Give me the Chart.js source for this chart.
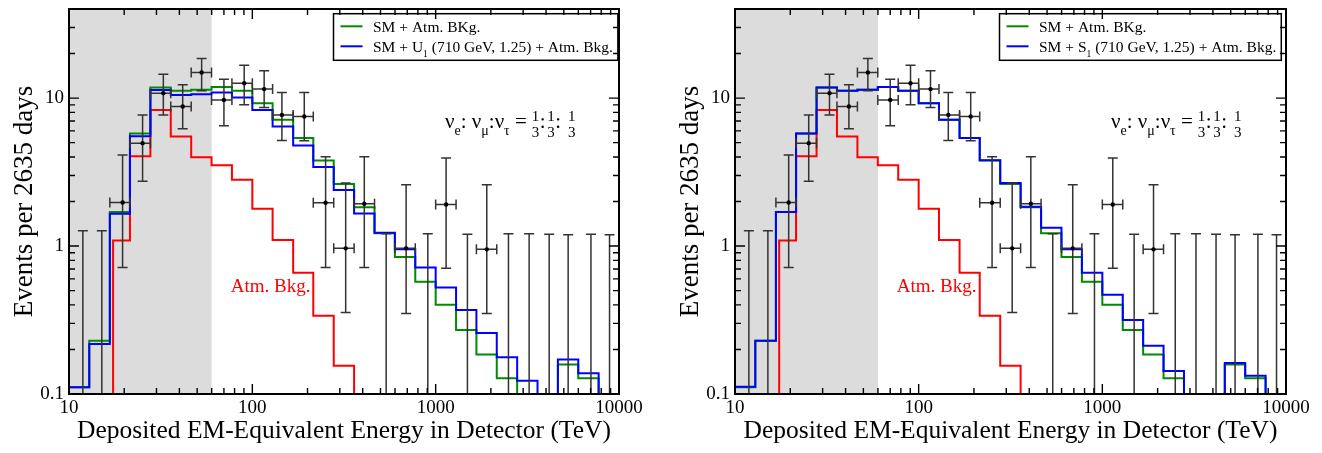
<!DOCTYPE html>
<html>
<head>
<meta charset="utf-8">
<script src="https://cdn.jsdelivr.net/npm/chart.js@4.4.1/dist/chart.umd.min.js"></script>
<style>
  html, body { margin: 0; padding: 0; background: #fff; }
  #wrap { position: relative; width: 1322px; height: 453px; overflow: hidden; }
  #chartLeft { position: absolute; left: 0; top: 0; }
  #chartRight { position: absolute; left: 666px; top: 0; }
</style>
</head>
<body>
<div id="wrap">
  <canvas id="chartLeft" width="666" height="453"></canvas>
  <canvas id="chartRight" width="656" height="453"></canvas>
</div>
<script>
// energy bin edges (TeV), 9 bins per decade
const binEdges = [10, 12.9, 16.7, 21.5, 27.8, 35.9, 46.4, 59.9, 77.4, 100, 129, 167, 215, 278, 359,
  464, 599, 774, 1000, 1292, 1668, 2154, 2783, 3594, 4642, 5995, 7743, 10000];

// expected events per bin
const smAtm = [0.111, 0.229, 1.70, 5.77, 11.8, 11.2, 11.4, 11.9, 11.2, 9.23, 7.13, 5.37, 3.78, 2.63,
  1.83, 1.22, 0.843, 0.573, 0.401, 0.271, 0.185, 0.128, 0, 0, 0.158, 0.128, 0];
const smU1 = [0.111, 0.218, 1.65, 5.53, 11.35, 10.5, 10.6, 10.9, 10.1, 8.32, 6.43, 4.79, 3.42, 2.39,
  1.66, 1.23, 0.95, 0.715, 0.524, 0.369, 0.258, 0.177, 0.123, 0, 0.171, 0.138, 0];
const smS1 = [0.112, 0.229, 1.70, 5.77, 11.8, 11.2, 11.4, 11.9, 11.2, 9.23, 7.13, 5.37, 3.80, 2.67,
  1.84, 1.33, 0.95, 0.661, 0.468, 0.316, 0.212, 0.143, 0, 0, 0.162, 0.133, 0];

// atmospheric background only (own edges, starts a little above a bin edge)
const atmEdges = [10, 17.4, 21.5, 27.8, 35.9, 46.4, 59.9, 77.4, 100, 129, 167, 215, 278, 359, 10000];
const atmValues = [0, 1.09, 4.04, 8.32, 5.51, 3.98, 3.51, 2.81, 1.79, 1.10, 0.661, 0.338, 0.155, 0];

// IceCube data points (2635 days)
const dataEnergy = [11.9, 15.1, 19.6, 25.2, 32.7, 41.7, 52.9, 70.0, 90.3, 116, 145, 192, 251, 323, 408,
  537, 690, 906, 1140, 1490, 1900, 2495, 3235, 4160, 5280, 7030, 8880];
const dataCount = [0, 0, 1.97, 4.96, 10.8, 8.77, 14.9, 9.72, 12.6, 11.5, 7.7, 7.5, 1.96, 0.965, 1.93,
  0, 0.965, 0, 1.91, 0, 0.95, 0, 0, 0, 0, 0, 0];
const dataLow = [0, 0, 0.715, 2.74, 7.7, 6.2, 11.2, 6.5, 9.0, 8.63, 5.17, 5.15, 0.715, 0.356, 0.715,
  0, 0.35, 0, 0.707, 0, 0.35, 0, 0, 0, 0, 0, 0];
const dataHigh = [1.27, 1.27, 4.12, 7.7, 14.5, 12.3, 18.5, 13.4, 16.7, 15.3, 10.9, 10.9, 4.02, 2.67, 4.02,
  1.21, 2.60, 1.21, 3.93, 1.20, 2.60, 1.21, 1.21, 1.20, 1.19, 1.20, 1.19];

const xTickValues = [10, 100, 1000, 10000];
const yTickValues = [0.1, 1, 10];
const shadeMax = 60;      // TeV, grey band
const EMPTY = 1e-3;       // stands for zero on the log axis

const legendGreen = ['SM + Atm. BKg.'];
const legendU1 = ['SM + U', '1', ' (710 GeV, 1.25) + Atm. Bkg.'];
const legendS1 = ['SM + S', '1', ' (710 GeV, 1.25) + Atm. Bkg.'];

const SERIF = '"Liberation Serif", "Times New Roman", serif';
const GREEN = '#008b00', BLUE = '#0000ff', RED = '#ff0000';

// point k sits on the left edge of bin k, plus a closing point on the last edge
function stepPoints(edges, values) {
  const pts = values.map((v, k) => ({ x: edges[k], y: v > 0 ? v : EMPTY }));
  const last = values[values.length - 1];
  pts.push({ x: edges[edges.length - 1], y: last > 0 ? last : EMPTY });
  return pts;
}

// draw text parts, odd entries as subscripts
function drawRich(ctx, parts, x, y, size) {
  parts.forEach((t, i) => {
    const sub = i % 2 === 1;
    ctx.font = (sub ? size * 0.62 : size) + 'px ' + SERIF;
    ctx.fillText(t, x, y + (sub ? size * 0.3 : 0));
    x += ctx.measureText(t).width;
  });
  return x;
}
function richWidth(ctx, parts, size) {
  let w = 0;
  parts.forEach((t, i) => {
    ctx.font = (i % 2 === 1 ? size * 0.62 : size) + 'px ' + SERIF;
    w += ctx.measureText(t).width;
  });
  return w;
}

function drawFlavour(ctx, x, y) {
  const big = '21px ' + SERIF, sub = '14px ' + SERIF, small = '15px ' + SERIF;
  const run = [['\u03bd', big, 0], ['e', sub, 7], [': ', big, 0], ['\u03bd', big, 0], ['\u03bc', sub, 7],
    [':', big, 0], ['\u03bd', big, 0], ['\u03c4', sub, 7], [' =', big, 0]];
  ctx.textBaseline = 'alphabetic';
  ctx.textAlign = 'left';
  run.forEach(([t, f, dy]) => {
    ctx.font = f;
    ctx.fillText(t, x, y + dy);
    x += ctx.measureText(t).width;
  });
  const frac = (px) => {
    ctx.font = small;
    ctx.textAlign = 'center';
    const w = ctx.measureText('3').width;
    ctx.fillText('1', px + w / 2, y - 7.6);
    ctx.fillText('3', px + w / 2, y + 8.4);
    ctx.textAlign = 'left';
    return px + w;
  };
  const colon = (px) => {
    ctx.font = big;
    ctx.fillText(':', px, y);
    return px + ctx.measureText(':').width;
  };
  x = frac(x + 5);
  x = colon(x + 0.5);
  x = frac(x + 1.5);
  x = colon(x + 0.5);
  frac(x + 7);
}

const decor = {
  id: 'decor',
  beforeDatasetsDraw(chart) {
    const { ctx, chartArea: a, scales: { x } } = chart;
    ctx.save();
    ctx.fillStyle = '#dcdcdc';
    ctx.fillRect(a.left, a.top, x.getPixelForValue(shadeMax) - a.left, a.bottom - a.top);
    ctx.restore();
  },
  beforeDatasetDraw(chart, args) {
    if (args.index !== 0) return;
    const { ctx, chartArea: a, scales: { x, y } } = chart;
    const cap = 5;
    ctx.save();
    ctx.beginPath();
    ctx.rect(a.left, a.top, a.right - a.left, a.bottom - a.top);
    ctx.clip();
    ctx.strokeStyle = '#333';
    ctx.lineWidth = 1.5;
    dataEnergy.forEach((e, k) => {
      const px = x.getPixelForValue(e);
      const hi = y.getPixelForValue(dataHigh[k]);
      const lo = dataLow[k] > 0 ? y.getPixelForValue(dataLow[k]) : a.bottom + 5;
      ctx.beginPath();
      ctx.moveTo(px, lo); ctx.lineTo(px, hi);
      ctx.moveTo(px - cap, hi); ctx.lineTo(px + cap, hi);
      if (dataLow[k] > 0) { ctx.moveTo(px - cap, lo); ctx.lineTo(px + cap, lo); }
      if (dataCount[k] > 0) {
        const py = y.getPixelForValue(dataCount[k]);
        const x0 = x.getPixelForValue(binEdges[k]), x1 = x.getPixelForValue(binEdges[k + 1]);
        ctx.moveTo(x0, py); ctx.lineTo(x1, py);
        ctx.moveTo(x0, py - cap); ctx.lineTo(x0, py + cap);
        ctx.moveTo(x1, py - cap); ctx.lineTo(x1, py + cap);
      }
      ctx.stroke();
    });
    ctx.restore();
  },
  afterDraw(chart) {
    const { ctx, chartArea: a, scales: { x, y } } = chart;
    const o = chart.options.plugins.decor;
    ctx.save();

    // legend box
    const size = 15.5;
    const items = [{ parts: legendGreen, color: GREEN }, { parts: o.blueLegend, color: BLUE }];
    let w = 0;
    items.forEach(it => { w = Math.max(w, richWidth(ctx, it.parts, size)); });
    const bl = a.left + 264.5, bt = a.top + 4.7, bw = 39.5 + w + 5, bh = 46.6;
    ctx.fillStyle = '#fff';
    ctx.fillRect(bl, bt, bw, bh);
    ctx.strokeStyle = '#000';
    ctx.lineWidth = 1.5;
    ctx.strokeRect(bl, bt, bw, bh);
    items.forEach((it, i) => {
      const ly = bt + 12.6 + i * 20;
      ctx.strokeStyle = it.color;
      ctx.lineWidth = 2;
      ctx.beginPath(); ctx.moveTo(bl + 7, ly); ctx.lineTo(bl + 29, ly); ctx.stroke();
      ctx.fillStyle = '#000';
      ctx.textBaseline = 'alphabetic';
      ctx.textAlign = 'left';
      drawRich(ctx, it.parts, bl + 39.5, bt + 18.3 + i * 20, size);
    });

    // flavour ratio
    ctx.fillStyle = '#000';
    drawFlavour(ctx, a.left + 376, a.top + 119.3);

    // red label
    ctx.fillStyle = RED;
    ctx.font = '19px ' + SERIF;
    ctx.textBaseline = 'middle';
    ctx.fillText('Atm. Bkg.', a.left + 161.7, a.top + 277.7);

    // frame and inward ticks
    ctx.strokeStyle = '#000';
    ctx.lineWidth = 1.4;
    ctx.beginPath();
    [10, 100, 1000].forEach(d => {
      for (let m = 1; m <= 9; m++) {
        const px = x.getPixelForValue(d * m), len = m === 1 ? 10 : 6;
        ctx.moveTo(px, a.bottom); ctx.lineTo(px, a.bottom - len);
        ctx.moveTo(px, a.top); ctx.lineTo(px, a.top + len);
      }
    });
    [0.1, 1, 10].forEach(d => {
      for (let m = 1; m <= 9; m++) {
        if (d * m > y.max) break;
        const py = y.getPixelForValue(d * m), len = m === 1 ? 10 : 6;
        ctx.moveTo(a.left, py); ctx.lineTo(a.left + len, py);
        ctx.moveTo(a.right, py); ctx.lineTo(a.right - len, py);
      }
    });
    ctx.stroke();
    ctx.lineWidth = 2;
    ctx.strokeRect(a.left, a.top, a.right - a.left, a.bottom - a.top);
    ctx.restore();
  }
};

function makeChart(id, blueValues, blueLegend, rightPad) {
  const lineSet = (label, values, edges, color) => ({
    type: 'line', label, data: stepPoints(edges, values), showLine: true, stepped: 'before',
    borderColor: color, borderWidth: 2, pointRadius: 0, fill: false, clip: 0
  });
  return new Chart(document.getElementById(id), {
    type: 'scatter',
    data: {
      datasets: [
        { label: 'IceCube data', data: dataEnergy.map((e, k) => ({ x: e, y: dataCount[k] > 0 ? dataCount[k] : EMPTY })),
          pointRadius: 2.2, pointBackgroundColor: '#000', pointBorderWidth: 0, clip: 0 },
        lineSet(blueLegend.join(''), blueValues, binEdges, BLUE),
        lineSet(legendGreen.join(''), smAtm, binEdges, GREEN),
        lineSet('Atm. Bkg.', atmValues, atmEdges, RED)
      ]
    },
    options: {
      responsive: false,
      animation: false,
      layout: { padding: { left: 0, right: rightPad, top: 9, bottom: 0 } },
      plugins: { legend: { display: false }, tooltip: { enabled: false }, decor: { blueLegend } },
      scales: {
        x: {
          type: 'logarithmic', min: 10, max: 10000,
          grid: { display: false, drawTicks: false }, border: { display: false },
          afterBuildTicks: s => { s.ticks = xTickValues.map(v => ({ value: v })); },
          afterFit: s => { s.height = 59; s.paddingLeft = 0; s.paddingRight = 0; },
          ticks: { autoSkip: false, maxRotation: 0, padding: 3, color: '#000',
            font: { family: SERIF, size: 19 }, callback: v => String(v) },
          title: { display: true, text: 'Deposited EM-Equivalent Energy in Detector (TeV)', color: '#000',
            font: { family: SERIF, size: 25.5 }, padding: { top: 0, bottom: 6 } }
        },
        y: {
          type: 'logarithmic', min: 0.1, max: 40,
          grid: { display: false, drawTicks: false }, border: { display: false },
          afterBuildTicks: s => { s.ticks = yTickValues.map(v => ({ value: v })); },
          afterFit: s => { s.width = 69; s.paddingTop = 0; s.paddingBottom = 0; },
          ticks: { autoSkip: false, padding: 5, color: '#000',
            font: { family: SERIF, size: 19 }, callback: v => String(v) },
          title: { display: true, text: 'Events per 2635 days', color: '#000',
            font: { family: SERIF, size: 27 }, padding: { top: 8.5, bottom: 0 } }
        }
      }
    },
    plugins: [decor]
  });
}

makeChart('chartLeft', smU1, legendU1, 47);
makeChart('chartRight', smS1, legendS1, 36);
</script>
</body>
</html>
